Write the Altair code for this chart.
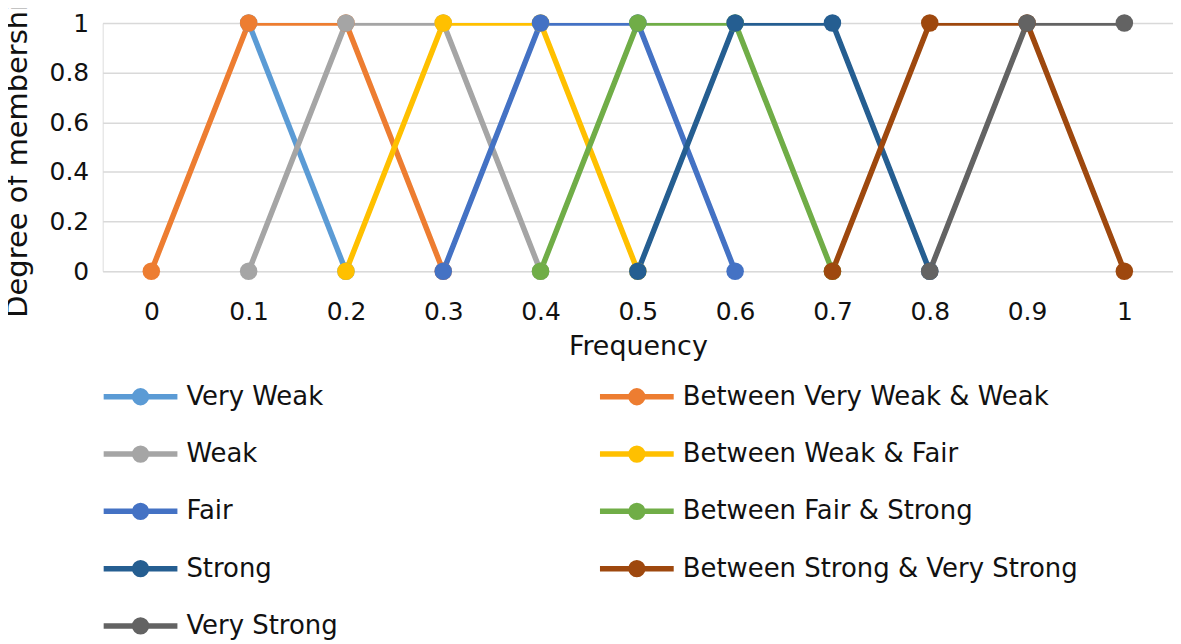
import altair as alt
import pandas as pd

freq_labels = ["0", "0.1", "0.2", "0.3", "0.4", "0.5", "0.6", "0.7", "0.8", "0.9", "1"]

series_names = [
    "Very Weak",
    "Between Very Weak & Weak",
    "Weak",
    "Between Weak & Fair",
    "Fair",
    "Between Fair & Strong",
    "Strong",
    "Between Strong & Very Strong",
    "Very Strong",
]
series_colors = ["#5B9BD5", "#ED7D31", "#A5A5A5", "#FFC000", "#4472C4",
                 "#70AD47", "#255E91", "#9E480E", "#636363"]

very_weak_x = ["0.1", "0.2"]
very_weak_y = [1, 0]
vw_w_x = ["0", "0.1", "0.2", "0.3"]
vw_w_y = [0, 1, 1, 0]
weak_x = ["0.1", "0.2", "0.3", "0.4"]
weak_y = [0, 1, 1, 0]
w_f_x = ["0.2", "0.3", "0.4", "0.5"]
w_f_y = [0, 1, 1, 0]
fair_x = ["0.3", "0.4", "0.5", "0.6"]
fair_y = [0, 1, 1, 0]
f_s_x = ["0.4", "0.5", "0.6", "0.7"]
f_s_y = [0, 1, 1, 0]
strong_x = ["0.5", "0.6", "0.7", "0.8"]
strong_y = [0, 1, 1, 0]
s_vs_x = ["0.7", "0.8", "0.9", "1"]
s_vs_y = [0, 1, 1, 0]
very_strong_x = ["0.8", "0.9", "1"]
very_strong_y = [0, 1, 1]

series_xy = [
    (very_weak_x, very_weak_y), (vw_w_x, vw_w_y), (weak_x, weak_y),
    (w_f_x, w_f_y), (fair_x, fair_y), (f_s_x, f_s_y),
    (strong_x, strong_y), (s_vs_x, s_vs_y), (very_strong_x, very_strong_y),
]

rows = []
for i, (name, (xs, ys)) in enumerate(zip(series_names, series_xy)):
    for j, (x, y) in enumerate(zip(xs, ys)):
        rows.append({"series": name, "freq": x, "deg": y, "s_idx": i, "p_idx": j})
df = pd.DataFrame(rows)

# Legend is filled column by column (5 rows): reorder so it reads row by row
legend_order = series_names[0::2] + series_names[1::2]
legend_colors = [series_colors[series_names.index(n)] for n in legend_order]

FONT = "DejaVu Sans"
TXT = "#111111"

legend_symbol = (
    "M-1,0L1,0"
    "M0.16,0A0.16,0.16,0,1,1,-0.16,0A0.16,0.16,0,1,1,0.16,0"
    "M0.045,0A0.045,0.045,0,1,1,-0.045,0A0.045,0.045,0,1,1,0.045,0"
)

x_enc = alt.X(
    "freq:O",
    sort=freq_labels,
    scale=alt.Scale(type="point", padding=0.5, domain=freq_labels),
    axis=alt.Axis(
        title="Frequency", labelAngle=0, domain=False, ticks=False, tickSize=0,
        grid=False, labelFontSize=25, labelPadding=28, labelFont=FONT,
        labelColor=TXT, titleFont=FONT, titleFontSize=27, titleFontWeight="normal",
        titleColor=TXT, titlePadding=10,
    ),
)
y_enc = alt.Y(
    "deg:Q",
    scale=alt.Scale(domain=[0, 1], nice=False, zero=True),
    axis=alt.Axis(
        title="Degree of membership", values=[0, 0.2, 0.4, 0.6, 0.8, 1],
        format=".1~f", domain=False, ticks=False, tickSize=0, grid=True,
        gridColor="#D9D9D9", gridWidth=1.5, labelFontSize=25, labelPadding=14,
        labelFont=FONT, labelColor=TXT, titleFont=FONT, titleFontSize=29,
        titleFontWeight="normal", titleColor=TXT, titleX=-85, titleY=128,
        titleAngle=270, titleAlign="center", titleBaseline="middle",
    ),
)
color_enc = alt.Color(
    "series:N",
    sort=legend_order,
    scale=alt.Scale(domain=legend_order, range=legend_colors),
    legend=alt.Legend(
        title=None, orient="none", legendX=-2, legendY=363, columns=2,
        symbolType=legend_symbol, symbolSize=5476, symbolStrokeWidth=5.5,
        symbolOpacity=1, clipHeight=24, labelFont=FONT, labelFontSize=26,
        labelColor=TXT, labelOffset=6, labelLimit=0, columnPadding=260,
        rowPadding=31.5, padding=0, gridAlign="each",
    ),
)

base = alt.Chart(df).encode(x=x_enc, y=y_enc, color=color_enc, detail="series:N")

lines = base.mark_line(strokeWidth=5.5, clip=True).encode(order="p_idx:Q")
points = base.mark_point(filled=True, size=310, opacity=1, clip=False).encode(
    order="s_idx:Q")

chart = alt.layer(lines, points).properties(
    width=1074, height=249,
    padding={"left": 95, "top": 14, "right": 0, "bottom": 373},
    autosize=alt.AutoSizeParams(type="none"),
).configure_view(stroke=None).configure(background="white")

chart.save("out.html", embed_options={"renderer": "svg", "actions": False})
